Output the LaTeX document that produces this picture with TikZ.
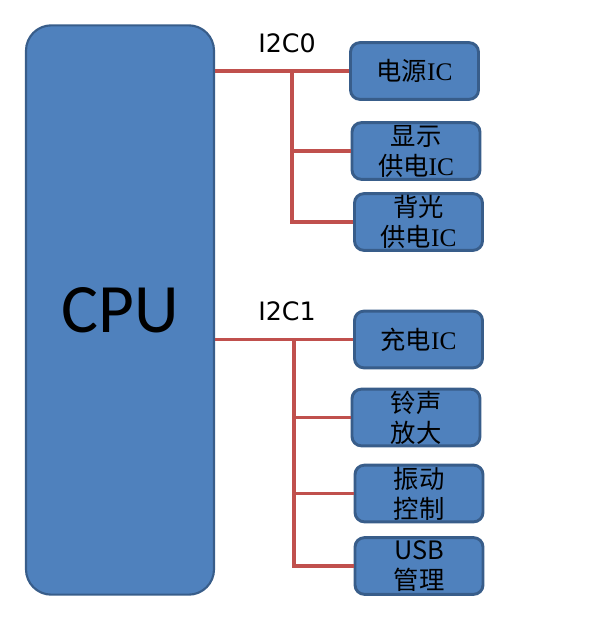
\documentclass[tikz,border=0pt]{standalone}
\usepackage{fontspec}
\setmainfont{Liberation Serif}
\newfontfamily\cjk{Noto Sans CJK SC}
\newfontfamily\cpufont{Carlito}
\newfontfamily\busfont{DejaVu Sans}
\definecolor{boxblue}{HTML}{4F81BD}
\definecolor{boxedge}{HTML}{385D8A}
\definecolor{busred}{HTML}{C0504D}
\tikzset{
  chip/.style={draw=boxedge, fill=boxblue, line width=1.6pt, rounded corners=19pt,
    minimum width=141pt, minimum height=427pt, inner sep=0pt,
    font=\cpufont\fontsize{52}{60}\selectfont},
  icbox/.style={draw=boxedge, fill=boxblue, line width=2.2pt, rounded corners=7pt,
    minimum width=96pt, minimum height=42.5pt, inner sep=0pt, align=center,
    font=\fontsize{19}{22.5}\selectfont},
  bus/.style={draw=busred, line width=2.9pt},
  buslabel/.style={font=\busfont\fontsize{19}{22}\selectfont}
}
\begin{document}
\begin{tikzpicture}[x=0.75pt,y=-0.75pt]
  \useasboundingbox (0,0) rectangle (597,618);
  \node[chip] (cpu) at (120,310) {CPU};

  \node[icbox] (pwr) at (414.5,71) {{\cjk 电源}IC};
  \node[icbox] (disp) at (416,151) {{\cjk 显示}\\{\cjk 供电}IC};
  \node[icbox] (blight) at (418.5,222) {{\cjk 背光}\\{\cjk 供电}IC};

  \node[icbox] (chg) at (418.5,339.5) {{\cjk 充电}IC};
  \node[icbox] (ring) at (416,417.5) {{\cjk 铃声}\\{\cjk 放大}};
  \node[icbox] (vib) at (419,493.5) {{\cjk 振动}\\{\cjk 控制}};
  \node[icbox] (usb) at (419,566) {{\cjk USB}\\{\cjk 管理}};

  \node[buslabel] (i2c0) at (287,43) {I2C0};
  \node[buslabel] (i2c1) at (287,311) {I2C1};

  \coordinate (bus0) at (292,71);
  \coordinate (bus1) at (294,339.5);

  \draw[bus] (cpu.east |- pwr.west) -- (pwr.west);
  \draw[bus] (bus0) |- (disp.west);
  \draw[bus] (bus0) |- (blight.west);

  \draw[bus] (cpu.east |- chg.west) -- (chg.west);
  \draw[bus] (bus1) |- (ring.west);
  \draw[bus] (bus1) |- (vib.west);
  \draw[bus] (bus1) |- (usb.west);
\end{tikzpicture}
\end{document}
